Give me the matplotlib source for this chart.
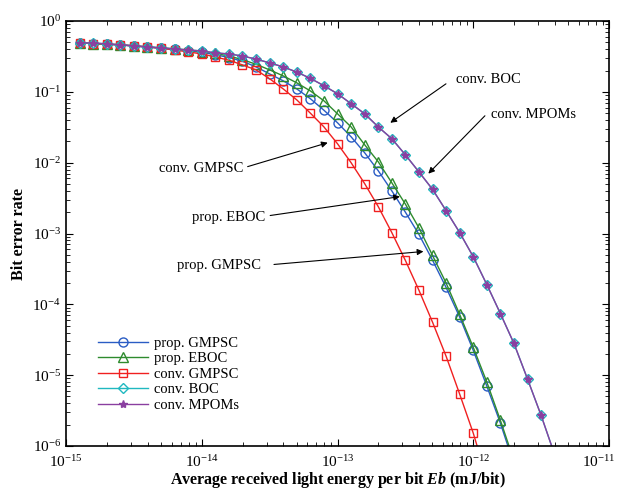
import matplotlib
matplotlib.use("Agg")
import matplotlib.pyplot as plt
import matplotlib.transforms as mtransforms
import numpy as np

plt.rcParams['font.family'] = ['Liberation Serif', 'DejaVu Serif']
plt.rcParams['mathtext.fontset'] = 'custom'
plt.rcParams['mathtext.rm'] = 'Liberation Serif'
plt.rcParams['mathtext.it'] = 'Liberation Serif:italic:bold'
plt.rcParams['mathtext.bf'] = 'Liberation Serif:bold'

# log10 of Eb (mJ/bit) sample points
eb_exp = [-14.9, -14.8, -14.7, -14.6, -14.5, -14.4, -14.3, -14.2, -14.1, -14.0,
          -13.9, -13.8, -13.7, -13.6, -13.5, -13.4, -13.3, -13.2, -13.1, -13.0,
          -12.9, -12.8, -12.7, -12.6, -12.5, -12.4, -12.3, -12.2, -12.1, -12.0,
          -11.9, -11.8, -11.7, -11.6, -11.5, -11.4]

prop_gmpsc = [0.49, 0.48, 0.47, 0.46, 0.445, 0.43, 0.415, 0.40, 0.38, 0.36,
              0.335, 0.305, 0.27, 0.225, 0.179, 0.143, 0.110, 0.080, 0.055, 0.0366,
              0.0232, 0.0138, 7.7e-3, 4.0e-3, 2.0e-3, 9.7e-4, 4.2e-4, 1.73e-4, 6.6e-5, 2.24e-5,
              7.0e-6, 2.1e-6, 5.5e-7]
prop_eboc = [0.49, 0.48, 0.47, 0.46, 0.445, 0.43, 0.418, 0.405, 0.39, 0.37,
             0.35, 0.32, 0.285, 0.245, 0.204, 0.168, 0.134, 0.103, 0.0747, 0.049,
             0.032, 0.0179, 0.0103, 5.2e-3, 2.6e-3, 1.2e-3, 4.9e-4, 2.0e-4, 7.2e-5, 2.47e-5,
             8.0e-6, 2.3e-6, 6.2e-7]
conv_gmpsc = [0.49, 0.48, 0.475, 0.46, 0.445, 0.43, 0.41, 0.39, 0.366, 0.343,
              0.31, 0.28, 0.24, 0.204, 0.153, 0.11, 0.077, 0.05, 0.032, 0.0185,
              0.010, 5.06e-3, 2.4e-3, 1.03e-3, 4.17e-4, 1.58e-4, 5.6e-5, 1.85e-5, 5.4e-6, 1.52e-6,
              3.5e-7]
conv_boc = [0.49, 0.49, 0.475, 0.46, 0.445, 0.43, 0.417, 0.403, 0.39, 0.378,
            0.354, 0.343, 0.32, 0.29, 0.256, 0.225, 0.19, 0.155, 0.122, 0.094,
            0.068, 0.049, 0.032, 0.0218, 0.0129, 7.4e-3, 4.2e-3, 2.1e-3, 1.03e-3, 4.7e-4,
            1.9e-4, 7.4e-5, 2.8e-5, 8.8e-6, 2.7e-6, 7.5e-7]
conv_mpoms = conv_boc

x_ticks = [1e-15, 1e-14, 1e-13, 1e-12, 1e-11]

series = [
    ("prop. GMPSC", prop_gmpsc, '#2a5cc4', 'o', 6.5),
    ("prop. EBOC", prop_eboc, '#2e8b2e', '^', 7),
    ("conv. GMPSC", conv_gmpsc, '#f02020', 's', 5.8),
    ("conv. BOC", conv_boc, '#20b8c0', 'D', 5.2),
    ("conv. MPOMs", conv_mpoms, '#8a3fa0', '*', 6),
]

fig = plt.figure(figsize=(6.2, 4.95), dpi=100)
ax = fig.add_axes([66 / 620, 1 - 446 / 495, 543 / 620, 425 / 495])

for name, vals, col, mk, ms in series:
    x = [10 ** e for e in eb_exp[:len(vals)]]
    ax.plot(x, vals, color=col, lw=1.0, marker=mk, ms=ms, mfc='none' if mk != '*' else col,
            mec=col, mew=1.0, label=name)

ax.set_xscale('log')
ax.set_yscale('log')
ax.set_xlim(1e-15, 1e-11)
ax.set_ylim(1e-6, 1)
ax.set_xticks(x_ticks)
ax.tick_params(which='both', direction='in', top=True, right=True, labelsize=11)
ax.tick_params(axis='x', which='major', pad=6)
ax.tick_params(which='major', length=5, width=0.8)
ax.tick_params(which='minor', length=3, width=0.6)
for s in ax.spines.values():
    s.set_linewidth(1.2)

# keep the last x label inside the figure, as in the reference
last = ax.xaxis.get_major_ticks()[-1].label1
last.set_transform(last.get_transform() +
                   mtransforms.ScaledTranslation(-10 / 100, 0, fig.dpi_scale_trans))

ax.set_xlabel(r"Average received light energy per bit $\mathit{Eb}$ (mJ/bit)",
              fontsize=11.5, fontweight='bold', labelpad=0)
ax.set_ylabel("Bit error rate", fontsize=11.5, fontweight='bold', labelpad=4)

ax.legend(loc='lower left', bbox_to_anchor=(0.035, 0.05), frameon=False, fontsize=10.5,
          handlelength=3.4, labelspacing=0.15, handletextpad=0.4)

arrow = dict(arrowstyle='-|>', color='k', lw=0.8, mutation_scale=9, shrinkA=0, shrinkB=0)
notes = [
    ("conv. BOC", (-12.13, -0.83), 'left', (-12.201, -0.887), (-12.611, -1.437)),
    ("conv. MPOMs", (-11.87, -1.324), 'left', (-11.914, -1.338), (-12.331, -2.155)),
    ("conv. GMPSC", (-13.69, -2.085), 'right', (-13.662, -2.056), (-13.072, -1.718)),
    ("prop. EBOC", (-13.53, -2.775), 'right', (-13.496, -2.746), (-12.54, -2.479)),
    ("prop. GMPSC", (-13.56, -3.45), 'right', (-13.468, -3.437), (-12.367, -3.254)),
]
for txt, tpos, ha, tail, tip in notes:
    ax.text(10 ** tpos[0], 10 ** tpos[1], txt, fontsize=10.5, ha=ha, va='center')
    ax.annotate('', xy=(10 ** tip[0], 10 ** tip[1]), xytext=(10 ** tail[0], 10 ** tail[1]),
                arrowprops=arrow)

fig.savefig("out.png", dpi=100)
